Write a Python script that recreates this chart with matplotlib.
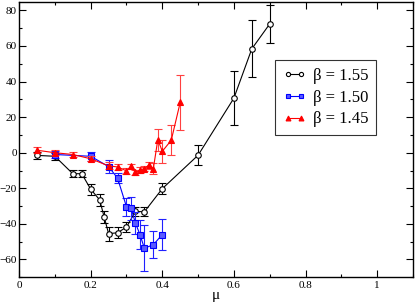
import matplotlib as mpl
mpl.use("Agg")
import matplotlib.pyplot as plt
from matplotlib.ticker import MultipleLocator
from matplotlib.lines import Line2D

# beta = 1.55
mu_155 = [0.05, 0.1, 0.15, 0.175, 0.2, 0.225, 0.2375, 0.25, 0.275, 0.3, 0.325, 0.35, 0.4, 0.5, 0.6, 0.65, 0.7]
val_155 = [-1.5, -2, -11.8, -11.8, -20.5, -26.5, -36, -45.5, -45, -41.8, -33, -33.2, -20.2, -1.4, 30.7, 58.4, 72.4]
err_155 = [2, 2, 2, 2, 3, 3.5, 3.5, 4, 3, 3, 2.5, 2.5, 3, 5.5, 15, 16, 10.7]

# beta = 1.50
mu_150 = [0.1, 0.2, 0.25, 0.275, 0.3, 0.3125, 0.325, 0.3375, 0.35, 0.375, 0.4]
val_150 = [-1, -2, -7.8, -14.3, -30.4, -31.2, -39.5, -46, -53.7, -51.7, -46]
err_150 = [2, 2.5, 3.5, 3, 5, 6.5, 6, 8, 13, 7.5, 8.5]

# beta = 1.45
mu_145 = [0.05, 0.1, 0.15, 0.2, 0.25, 0.275, 0.3, 0.3125, 0.325, 0.3375, 0.35, 0.3625, 0.375, 0.3875, 0.4, 0.425, 0.45]
val_145 = [1.4, 0, -1, -3.4, -7.4, -8, -10.2, -7.6, -11.1, -9.8, -8.9, -7, -8.9, 7.4, 0.8, 7, 28.3]
err_145 = [1.8, 1.5, 1.5, 1.5, 2, 1.5, 1.5, 1.5, 1.5, 1.5, 1.5, 2, 3, 6.2, 6.5, 8.5, 15.5]

labels = ['\u03b2 = 1.55', '\u03b2 = 1.50', '\u03b2 = 1.45']

plt.rcParams['font.family'] = ['Liberation Serif', 'DejaVu Serif']

fig = plt.figure(figsize=(4.15, 3.06), dpi=100)
ax = fig.add_axes([0.046, 0.094, 0.949, 0.901])

ax.errorbar(mu_155, val_155, yerr=err_155, color='black', lw=0.8, marker='o', ms=4,
            mfc='white', mec='black', mew=0.8, capsize=3, elinewidth=0.8, capthick=0.8,
            ecolor='black', zorder=3)
ax.errorbar(mu_150, val_150, yerr=err_150, color='#0000ff', lw=0.8, marker='s', ms=4,
            mfc='#5a5aff', mec='#0000ff', mew=0.8, capsize=3, elinewidth=0.8, capthick=0.8,
            ecolor='#2020ff', zorder=4)
ax.errorbar(mu_145, val_145, yerr=err_145, color='#ff0000', lw=0.8, marker='^', ms=4.5,
            mfc='#ff0000', mec='#ff0000', mew=0.8, capsize=3, elinewidth=0.8, capthick=0.8,
            ecolor='#ff4040', zorder=5)

ax.set_xlim(0, 1.1)
ax.set_ylim(-70, 85)
ax.xaxis.set_minor_locator(MultipleLocator(0.1))
ax.yaxis.set_major_locator(MultipleLocator(20))
ax.yaxis.set_minor_locator(MultipleLocator(10))
ax.set_xticks([0, 0.2, 0.4, 0.6, 0.8, 1.0])
ax.set_xticklabels(['0', '0.2', '0.4', '0.6', '0.8', '1'])
ax.tick_params(which='both', direction='in', top=True, right=True, labelsize=8)
ax.tick_params(axis='x', pad=3)
ax.tick_params(axis='y', pad=1.5)
ax.tick_params(which='major', length=5, width=0.8)
ax.tick_params(which='minor', length=2.5, width=0.8)
for s in ax.spines.values():
    s.set_linewidth(1.0)

ax.set_xlabel('\u03bc', fontsize=11, labelpad=-1)

handles = [
    Line2D([], [], color='black', lw=0.8, marker='o', ms=3, mfc='white', mec='black', mew=0.8),
    Line2D([], [], color='#0000ff', lw=0.8, marker='s', ms=3, mfc='#5a5aff', mec='#0000ff', mew=0.8),
    Line2D([], [], color='#ff0000', lw=0.8, marker='^', ms=3.5, mfc='#ff0000', mec='#ff0000', mew=0.8),
]
leg = ax.legend(handles, labels, loc='upper left', bbox_to_anchor=(0.65, 0.787), numpoints=2,
                fontsize=12, frameon=True, fancybox=False, edgecolor='black', handlelength=1.4,
                borderpad=0.45, labelspacing=0.35, handletextpad=0.45, borderaxespad=0)
leg.get_frame().set_linewidth(0.8)

fig.savefig('out.png', dpi=100)
